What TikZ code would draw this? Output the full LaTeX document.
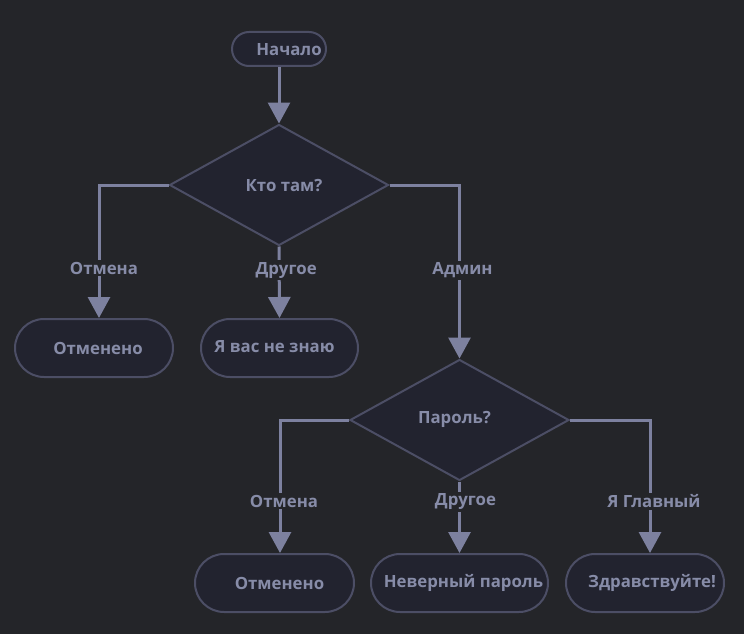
\documentclass[tikz,border=0pt]{standalone}
\usepackage{fontspec}
\setmainfont{Open Sans}[BoldFont={* Bold}]
\usetikzlibrary{shapes.geometric,arrows.meta}
\definecolor{bg}{HTML}{242529}
\definecolor{nodefill}{HTML}{22232F}
\definecolor{nodeline}{HTML}{4C4E65}
\definecolor{txt}{HTML}{878CA8}
\definecolor{wire}{HTML}{7D819F}
\tikzset{
  base/.style={draw=nodeline, fill=nodefill, line width=2pt, inner sep=0pt},
  term/.style={base, rectangle, rounded corners=29pt, minimum height=58pt},
  decision/.style={base, diamond, minimum width=219pt, minimum height=121pt},
  caption/.style={text=txt, font=\bfseries\fontsize{16.8}{19}\selectfont},
  flow/.style={draw=wire, line width=3pt, -{Triangle[width=22pt,length=21pt]}},
  lbl/.style={caption, fill=bg, inner sep=2pt},
}
\begin{document}
\begin{tikzpicture}[x=1pt, y=-1pt]
  \fill[bg] (0,0) rectangle (744,634);
  \useasboundingbox (0,0) rectangle (744,634);

  % start and first decision
  \node[base, rectangle, rounded corners=17pt, minimum width=94pt, minimum height=34pt,
        label={[caption, xshift=10pt, yshift=-1pt]center:Начало}] (start) at (279,49) {};
  \node[decision, label={[caption, xshift=5pt, yshift=-1pt]center:Кто там?}] (who) at (279,185) {};

  % first row of results
  \node[term, minimum width=158pt, label={[caption, xshift=4pt]center:Отменено}] (cancel1) at (94,348) {};
  \node[term, minimum width=157pt, label={[caption, xshift=-5pt, yshift=1pt]center:Я вас не знаю}] (unknown) at (279.5,348) {};

  % second decision
  \node[decision, label={[caption, xshift=-5pt, yshift=0.5pt]center:Пароль?}] (pwd) at (459.5,420) {};

  % second row of results
  \node[term, minimum width=159pt, label={[caption, xshift=5pt]center:Отменено}] (cancel2) at (274.5,583) {};
  \node[term, minimum width=177pt, label={[caption, xshift=4pt]center:Неверный пароль}] (wrong) at (459.5,583) {};
  \node[term, minimum width=158pt, label={[caption, xshift=7pt]center:Здравствуйте!}] (hello) at (645,583) {};

  % connectors
  \draw[flow] (start) -- (who);
  \draw[flow] (who.west) -| ([xshift=5pt]cancel1.north) node[lbl, pos=0.812, xshift=5pt] {Отмена};
  \draw[flow] (who.south) -- (unknown.north) node[lbl, pos=0.306, xshift=7pt, yshift=-2pt] {Другое};
  \draw[flow] (who.east) -| (pwd.north) node[lbl, pos=0.74, xshift=3pt, yshift=-2pt] {Админ};

  \draw[flow] (pwd.west) -| ([xshift=5.5pt]cancel2.north) node[lbl, pos=0.8, xshift=4pt, yshift=-1.5pt] {Отмена};
  \draw[flow] (pwd.south) -- (wrong.north) node[lbl, pos=0.26, xshift=6pt, yshift=-1.5pt] {Другое};
  \draw[flow] (pwd.east) -| ([xshift=5pt]hello.north) node[lbl, pos=0.8, xshift=4pt, yshift=-1.5pt] {Я Главный};
\end{tikzpicture}
\end{document}
